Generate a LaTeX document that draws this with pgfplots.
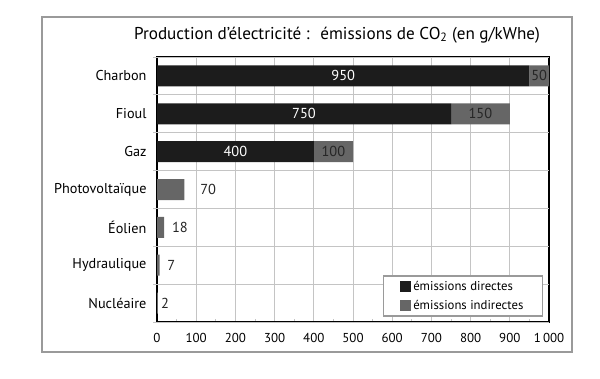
\documentclass[border=0pt]{standalone}
\usepackage{pgfplots}
\pgfplotsset{compat=1.18}
\usepackage{fontspec}
\setmainfont{PT Sans}
\definecolor{barblack}{HTML}{1C1C1C}
\definecolor{bargray}{HTML}{666666}
\definecolor{gridgray}{HTML}{C4C4C4}
\definecolor{framegray}{HTML}{9A9A9A}
\begin{document}
\begin{tikzpicture}
\path[use as bounding box] (0,0) rectangle (600bp,379bp);
\draw[framegray, line width=1.5bp] (42bp,27bp) rectangle (572bp,362bp);
\node[font=\fontsize{17.2}{20}\selectfont] at (337bp,344bp) {Production d'électricité :~ émissions de CO\textsubscript{2} (en g/kWhe)};
\begin{axis}[
  at={(157bp,57bp)}, anchor=south west, scale only axis,
  width=392bp, height=265bp,
  xbar stacked, bar width=21bp, y dir=reverse,
  xmin=0, xmax=1000, ymin=-0.5, ymax=6.5,
  ytick={0,...,6},
  yticklabels={Charbon,Fioul,Gaz,Photovoltaïque,Éolien,Hydraulique,Nucléaire},
  xtick={0,100,...,1000},
  xticklabels={0,100,200,300,400,500,600,700,800,900,1\,000},
  minor x tick num=1,
  tick pos=left,
  tick align=inside,
  major tick length=0pt,
  minor tick length=3bp,
  xmajorgrids,
  grid style={gridgray, line width=1bp},
  extra y ticks={-0.5,0.5,...,6.5},
  extra y tick labels={},
  extra y tick style={grid=major, tick align=outside, major tick length=4bp},
  axis line style={black, line width=1.5bp},
  tick style={gridgray, line width=1bp},
  yticklabel style={font=\fontsize{14.3}{16}\selectfont, xshift=-7bp},
  xticklabel style={font=\fontsize{13}{15}\selectfont, yshift=-8bp},
  legend style={at={(0.985,0.019)}, anchor=south east, draw=framegray, line width=1.5bp,
    font=\fontsize{12.8}{15}\selectfont, cells={anchor=west}, row sep=5bp,
    inner xsep=17bp, inner ysep=3bp},
  legend image code/.code={\fill[#1] (0bp,-5.5bp) rectangle (11bp,5.5bp);},
]
\addplot[fill=barblack, draw=none] coordinates {(950,0) (750,1) (400,2) (0,3) (0,4) (0,5) (0,6)};
\addplot[fill=bargray, draw=none] coordinates {(50,0) (150,1) (100,2) (70,3) (18,4) (7,5) (2,6)};
\legend{émissions directes, émissions indirectes}
\coordinate (a1) at (axis cs:475,0);
\coordinate (a2) at (axis cs:975,0);
\coordinate (b1) at (axis cs:375,1);
\coordinate (b2) at (axis cs:825,1);
\coordinate (c1) at (axis cs:200,2);
\coordinate (c2) at (axis cs:450,2);
\coordinate (d) at (axis cs:110,3);
\coordinate (e) at (axis cs:38,4);
\coordinate (f) at (axis cs:26,5);
\coordinate (g) at (axis cs:10,6);
\end{axis}
\begin{scope}[every node/.style={font=\fontsize{14.5}{16}\selectfont, text=black!85}]
\node[text=white] at (a1) {950};
\node at (a2) {50};
\node[text=white] at (b1) {750};
\node at (b2) {150};
\node[text=white] at (c1) {400};
\node at (c2) {100};
\node[anchor=west, inner sep=0pt] at (d) {70};
\node[anchor=west, inner sep=0pt] at (e) {18};
\node[anchor=west, inner sep=0pt] at (f) {7};
\node[anchor=west, inner sep=0pt] at (g) {2};
\end{scope}
\end{tikzpicture}
\end{document}
